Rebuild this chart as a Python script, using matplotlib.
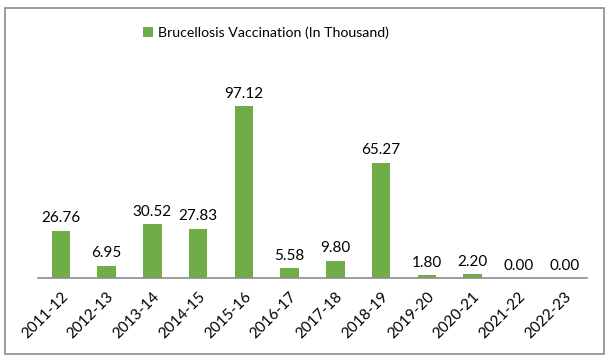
import matplotlib.pyplot as plt
import matplotlib.patches as mpatches
import numpy as np

years = ["2011-12", "2012-13", "2013-14", "2014-15", "2015-16", "2016-17",
         "2017-18", "2018-19", "2019-20", "2020-21", "2021-22", "2022-23"]
vaccinations = [26.76, 6.95, 30.52, 27.83, 97.12, 5.58,
                9.80, 65.27, 1.80, 2.20, 0.00, 0.00]

GREEN = "#70AD47"
plt.rcParams["font.family"] = ["Lato", "DejaVu Sans"]

fig = plt.figure(figsize=(6.07, 3.57), dpi=100)
ax = fig.add_axes([38 / 607, 79 / 357, 549 / 607, 0.545])

x = np.arange(len(years))
ax.bar(x, vaccinations, width=0.4, color=GREEN, label="Brucellosis Vaccination (In Thousand)")
for xi, v in zip(x, vaccinations):
    ax.text(xi, v + 3, f"{v:.2f}", ha="center", va="bottom", fontsize=11, color="#000000")

ax.set_xlim(-0.5, len(years) - 0.5)
ax.set_ylim(0, 110)
ax.set_xticks(x)
ax.set_xticklabels(years, rotation=45, ha="right", rotation_mode="anchor", fontsize=11)
ax.tick_params(axis="x", length=0, pad=8)
ax.set_yticks([])
for s in ["top", "right", "left"]:
    ax.spines[s].set_visible(False)
ax.spines["bottom"].set_color("#8c8c8c")
ax.spines["bottom"].set_linewidth(1.2)

leg = fig.legend(loc="center", bbox_to_anchor=(266 / 607, 1 - 33 / 357), frameon=False,
                 fontsize=10.2, handlelength=0.7, handleheight=0.7, handletextpad=0.3)

fig.patches.append(mpatches.Rectangle((5 / 607, 3 / 357), 599 / 607, 346 / 357,
                                      transform=fig.transFigure, fill=False,
                                      edgecolor="#8c8c8c", linewidth=1.2))

fig.savefig("out.png", dpi=100)
